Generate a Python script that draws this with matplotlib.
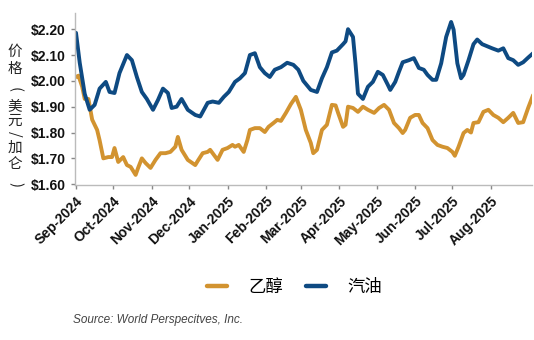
import pandas as pd
import matplotlib
matplotlib.use("Agg")
import matplotlib.pyplot as plt
import matplotlib.dates as mdates
from matplotlib.ticker import FuncFormatter

plt.rcParams['font.family'] = ['Liberation Sans', 'Noto Sans CJK SC', 'DejaVu Sans']

start = pd.Timestamp("2024-09-01")

# gasoline (汽油), days since 2024-09-01 and $/gal
gas_days = [0, 3, 7, 11, 15, 19, 24, 27, 31, 35, 41, 45, 49, 53, 57, 62, 66, 70, 74, 77,
            81, 85, 90, 96, 100, 106, 110, 115, 119, 123, 128, 132, 136, 140, 144, 148,
            152, 156, 160, 165, 170, 175, 179, 183, 189, 194, 198, 202, 206, 210, 215,
            217, 219, 223, 225, 227, 231, 235, 239, 243, 247, 251, 253, 257, 260, 263,
            268, 272, 276, 280, 283, 287, 290, 294, 298, 302, 304, 307, 310, 312, 316,
            320, 323, 327, 331, 335, 340, 344, 348, 352, 356, 360, 364, 368]
gas_price = [2.186, 2.07, 1.95, 1.888, 1.907, 1.97, 1.996, 1.957, 1.953, 2.03, 2.10, 2.08,
             2.015, 1.957, 1.93, 1.888, 1.926, 1.97, 1.953, 1.895, 1.90, 1.93, 1.888, 1.868,
             1.862, 1.915, 1.92, 1.915, 1.938, 1.957, 1.996, 2.01, 2.03, 2.10, 2.107, 2.053,
             2.03, 2.015, 2.043, 2.053, 2.07, 2.062, 2.043, 2.00, 1.965, 1.957, 2.01, 2.053,
             2.11, 2.117, 2.142, 2.153, 2.20, 2.17, 2.068, 1.95, 1.93, 1.977, 1.996, 2.035,
             2.023, 1.985, 1.965, 1.996, 2.035, 2.072, 2.08, 2.088, 2.05, 2.043, 2.023,
             2.004, 2.004, 2.068, 2.17, 2.228, 2.198, 2.068, 2.01, 2.023, 2.08, 2.142, 2.16,
             2.142, 2.134, 2.126, 2.117, 2.126, 2.088, 2.08, 2.062, 2.072, 2.09, 2.107]

# ethanol (乙醇)
eth_days = [0, 2, 5, 7, 10, 13, 17, 19, 22, 26, 29, 31, 34, 38, 41, 44, 48, 50, 53, 56, 60,
            64, 68, 72, 76, 80, 82, 85, 90, 96, 98, 102, 106, 108, 110, 114, 118, 122, 126,
            128, 131, 135, 138, 140, 144, 148, 152, 155, 159, 162, 165, 169, 173, 177, 181,
            185, 189, 191, 194, 198, 202, 206, 209, 211, 215, 217, 219, 223, 227, 231, 235,
            240, 244, 248, 252, 256, 260, 263, 265, 269, 273, 276, 279, 283, 287, 291, 295,
            299, 303, 305, 308, 312, 315, 318, 320, 324, 328, 332, 336, 340, 344, 348, 352,
            356, 360, 364, 368]
eth_price = [2.015, 2.02, 1.977, 1.93, 1.93, 1.85, 1.81, 1.77, 1.70, 1.705, 1.705, 1.74,
             1.686, 1.705, 1.674, 1.667, 1.636, 1.663, 1.70, 1.682, 1.663, 1.694, 1.72, 1.72,
             1.725, 1.745, 1.783, 1.733, 1.694, 1.674, 1.69, 1.72, 1.725, 1.733, 1.72, 1.694,
             1.733, 1.74, 1.752, 1.745, 1.752, 1.725, 1.771, 1.81, 1.817, 1.817, 1.802, 1.822,
             1.837, 1.849, 1.845, 1.876, 1.91, 1.938, 1.888, 1.81, 1.76, 1.72, 1.733, 1.81,
             1.83, 1.907, 1.905, 1.876, 1.822, 1.83, 1.90, 1.895, 1.88, 1.90, 1.888, 1.876,
             1.895, 1.907, 1.888, 1.837, 1.817, 1.798, 1.81, 1.857, 1.868, 1.868, 1.837,
             1.817, 1.771, 1.752, 1.745, 1.74, 1.725, 1.71, 1.745, 1.798, 1.81, 1.80, 1.837,
             1.84, 1.88, 1.888, 1.868, 1.857, 1.84, 1.857, 1.876, 1.837, 1.84, 1.895, 1.945]

month_ticks = pd.date_range("2024-09-01", "2025-08-01", freq="MS")
y_ticks = [1.6, 1.7, 1.8, 1.9, 2.0, 2.1, 2.2]
ylabel_chars = ["价", "格", "(", "美", "元", "/", "加", "仑", ")"]

eth_color = "#D29330"
gas_color = "#0E4A82"

gas_dates = start + pd.to_timedelta(gas_days, unit="D")
eth_dates = start + pd.to_timedelta(eth_days, unit="D")

fig = plt.figure(figsize=(5.34, 3.40), dpi=100)
ax = fig.add_axes([0.140, 0.456, 0.856, 0.506])

ax.plot(eth_dates, eth_price, color=eth_color, lw=2.8, label="乙醇", solid_capstyle="round")
ax.plot(gas_dates, gas_price, color=gas_color, lw=2.8, label="汽油", solid_capstyle="round")

ax.set_ylim(1.597, 2.263)
ax.set_yticks(y_ticks)
ax.yaxis.set_major_formatter(FuncFormatter(lambda v, p: f"${v:.2f}"))
ax.set_xlim(pd.Timestamp("2024-08-31"), pd.Timestamp("2025-09-03"))
ax.set_xticks(month_ticks)
ax.xaxis.set_major_formatter(mdates.DateFormatter("%b-%Y"))

for s in ["top", "right"]:
    ax.spines[s].set_visible(False)
for s in ["left", "bottom"]:
    ax.spines[s].set_color("#BBBBBB")
    ax.spines[s].set_linewidth(1.0)
ax.tick_params(axis="both", colors="#888888", length=3, width=1, labelcolor="#111111", labelsize=10)
for lab in ax.get_yticklabels():
    lab.set_fontweight("bold")
for lab in ax.get_xticklabels():
    lab.set_fontweight("bold")
    lab.set_rotation(45)
    lab.set_ha("right")
    lab.set_rotation_mode("anchor")

# vertical y label: CJK upright, brackets and slash turned
ypix = [52, 69, 90, 106, 121, 134, 148, 164, 185]
for ch, yp in zip(ylabel_chars, ypix):
    rot = -90 if ch in "()/" else 0
    fig.text(15 / 534, 1 - yp / 340, ch, family=["Noto Sans CJK SC", "DejaVu Sans"],
             fontsize=10.5, ha="center", va="center", rotation=rot, color="#222222",
             rotation_mode="anchor")

leg = fig.legend(loc="center", bbox_to_anchor=(0.551, 0.156), ncol=2, frameon=False,
                 prop={"family": ["Noto Sans CJK SC", "DejaVu Sans"], "size": 12.5},
                 handlelength=1.2, columnspacing=1.3, handletextpad=1.2)
for line in leg.get_lines():
    line.set_linewidth(3.2)

fig.text(0.137, 0.05, "Source: World Perspecitves, Inc.", style="italic", fontsize=8.5, color="#444444")

fig.savefig("out.png", dpi=100)
